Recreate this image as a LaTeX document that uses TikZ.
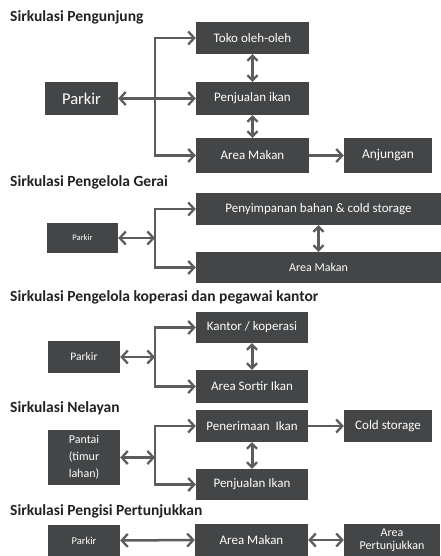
\documentclass[tikz,border=0pt]{standalone}
\usepackage{fontspec}
\setmainfont{Carlito}
\usetikzlibrary{arrows.meta}
\definecolor{boxc}{HTML}{434547}
\definecolor{arrc}{HTML}{5B5C5E}
\definecolor{titc}{HTML}{222222}
\tikzset{
  box/.style={fill=boxc, text=white, inner sep=1pt, align=center, font=\fontsize{13}{14}\selectfont},
  ttl/.style={anchor=west, text=titc, inner sep=0pt, font=\bfseries\fontsize{15.5}{17}\selectfont},
  tip/.style={Straight Barb[length=6pt,width=13pt,line width=2.3pt]},
  vtip/.style={Straight Barb[length=5pt,width=10pt,line width=2.3pt]},
  arr/.style={draw=arrc, line width=2.5pt, -{Straight Barb[length=6pt,width=13pt,line width=2.3pt]}},
  darr/.style={draw=arrc, line width=2.5pt, {Straight Barb[length=6pt,width=13pt,line width=2.3pt]}-{Straight Barb[length=6pt,width=13pt,line width=2.3pt]}},
  varr/.style={draw=arrc, line width=3pt, {Straight Barb[length=5pt,width=10pt,line width=2.3pt]}-{Straight Barb[length=5pt,width=10pt,line width=2.3pt]}}
}
\begin{document}
\begin{tikzpicture}[x=1pt,y=-1pt]
\useasboundingbox[fill=white] (0,0) rectangle (441,556);

% Section 1
\node[ttl] (t1) at (10,17) {Sirkulasi Pengunjung};
\node[box, minimum width=113, minimum height=32] (toko) at (252.5,38) {Toko oleh-oleh};
\node[box, minimum width=73, minimum height=33, font=\fontsize{16.5}{18}\selectfont] (p1) at (81.5,98.5) {Parkir};
\node[box, minimum width=113, minimum height=33] (pj1) at (252.5,98.5) {Penjualan ikan};
\node[box, minimum width=113, minimum height=35] (m1) at (252.5,155.5) {Area Makan};
\node[box, minimum width=88, minimum height=35, font=\fontsize{13.5}{15}\selectfont] (anj) at (388,155.5) {Anjungan};
\coordinate (j1) at (155,98.5);
\draw[arr] (j1) |- (toko.west);
\draw[arr] (j1) |- (m1.west);
\draw[darr] (p1.east) -- (pj1.west);
\draw[varr] (toko.south) -- (pj1.north);
\draw[varr] (pj1.south) -- (m1.north);
\draw[arr] (m1.east) -- (anj.west);

% Section 2
\node[ttl] (t2) at (10,182) {Sirkulasi Pengelola Gerai};
\node[box, minimum width=245, minimum height=32] (peny) at (318.5,209) {Penyimpanan bahan \& cold storage};
\node[box, minimum width=71, minimum height=30, font=\fontsize{8.5}{9}\selectfont] (p2) at (82.5,238) {Parkir};
\node[box, minimum width=245, minimum height=31, font=\fontsize{12}{13}\selectfont] (m2) at (318.5,267.5) {Area Makan};
\coordinate (j2) at (155,238);
\draw[darr] (p2.east) -- (j2);
\draw[arr] (j2) |- (peny.west);
\draw[arr] (j2) |- (m2.west);
\draw[varr] (peny.south) -- (m2.north);

% Section 3
\node[ttl] (t3) at (10,297) {Sirkulasi Pengelola koperasi dan pegawai kantor};
\node[box, minimum width=112, minimum height=31] (kant) at (252,327.5) {Kantor / koperasi};
\node[box, minimum width=72, minimum height=32, font=\fontsize{11.5}{12}\selectfont] (p3) at (84,357) {Parkir};
\node[box, minimum width=112, minimum height=33] (sort) at (252,386.5) {Area Sortir Ikan};
\coordinate (j3) at (155,357);
\draw[darr] (p3.east) -- (j3);
\draw[arr] (j3) |- (kant.west);
\draw[arr] (j3) |- (sort.west);
\draw[varr] (kant.south) -- (sort.north);

% Section 4
\node[ttl] (t4) at (10,408) {Sirkulasi Nelayan};
\node[box, minimum width=112, minimum height=32] (pen) at (252,426) {Penerimaan~ Ikan};
\node[box, minimum width=88, minimum height=32] (cold) at (388,426) {Cold storage};
\node[box, minimum width=72, minimum height=55, font=\fontsize{12}{17}\selectfont] (pant) at (84,457.5) {Pantai\\(timur\\lahan)};
\node[box, minimum width=112, minimum height=31] (pj4) at (252,484.5) {Penjualan Ikan};
\coordinate (j4) at (155,457.5);
\draw[darr] (pant.east) -- (j4);
\draw[arr] (j4) |- (pen.west);
\draw[arr] (j4) |- (pj4.west);
\draw[arr] (pen.east) -- (cold.west);
\draw[varr] (pen.south) -- (pj4.north);

% Section 5
\node[ttl] (t5) at (10,511) {Sirkulasi Pengisi Pertunjukkan};
\node[box, minimum width=72, minimum height=32, font=\fontsize{10.5}{12}\selectfont] (p5) at (84,540.5) {Parkir};
\node[box, minimum width=113, minimum height=32] (m5) at (251.5,540) {Area Makan};
\node[box, minimum width=96, minimum height=32, font=\fontsize{12}{13}\selectfont] (pert) at (392,540) {Area\\Pertunjukkan};
\draw[darr] (p5.east) -- (m5.west);
\draw[darr] (m5.east) -- (pert.west);
\end{tikzpicture}
\end{document}
